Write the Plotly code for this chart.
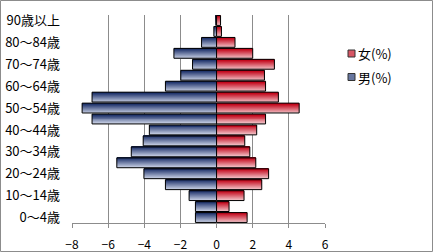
import plotly.graph_objects as go

ages = ["0〜4歳", "5〜9歳", "10〜14歳", "15〜19歳", "20〜24歳", "25〜29歳", "30〜34歳",
        "35〜39歳", "40〜44歳", "45〜49歳", "50〜54歳", "55〜59歳", "60〜64歳", "65〜69歳",
        "70〜74歳", "75〜79歳", "80〜84歳", "85〜89歳", "90歳以上"]
male = [-1.17, -1.17, -1.52, -2.83, -4.02, -5.52, -4.72, -4.06, -3.72, -6.89,
        -7.44, -6.89, -2.83, -1.98, -1.33, -2.36, -0.83, -0.15, -0.04]
female = [1.69, 0.69, 1.52, 2.5, 2.88, 2.17, 1.84, 1.56, 2.22, 2.71,
          4.57, 3.42, 2.71, 2.65, 3.2, 2.0, 1.02, 0.27, 0.22]
shown_labels = ["0〜4歳", "10〜14歳", "20〜24歳", "30〜34歳", "40〜44歳", "50〜54歳",
                "60〜64歳", "70〜74歳", "80〜84歳", "90歳以上"]
x_ticks = [-8, -6, -4, -2, 0, 2, 4, 6]
legend_names = ["女(%)", "男(%)"]


def lerp(c1, c2, t):
    return "rgb(%d,%d,%d)" % tuple(round(a + (b - a) * t) for a, b in zip(c1, c2))


L, R, T, B = 72, 108, 15, 29
pw = 433 - L - R
ph = 252 - T - B

fig = go.Figure()
N = 10
W = 0.9
sw = W / N
series = [
    (legend_names[1], male, (35, 55, 110), (205, 212, 232)),
    (legend_names[0], female, (195, 10, 30), (244, 200, 205)),
]
for name, vals, top, bot in series:
    for i in range(N):
        t = i / (N - 1)
        col = lerp(bot, top, t)
        fig.add_trace(go.Bar(
            x=vals, y=ages, orientation="h",
            width=sw * 1.02, offset=-W / 2 + i * sw,
            marker=dict(color=col, line=dict(width=0)),
            name=name, showlegend=False, hoverinfo="skip",
        ))
    fig.add_trace(go.Bar(
        x=vals, y=ages, orientation="h", width=W, offset=-W / 2,
        marker=dict(color="rgba(0,0,0,0)", line=dict(color="black", width=1)),
        name=name, showlegend=False, hoverinfo="skip",
    ))

shapes = [dict(type="rect", xref="paper", yref="paper",
               x0=-(L - 0.5) / pw, x1=1 + (R - 0.5) / pw,
               y0=-(B - 0.5) / ph, y1=1 + (T - 0.5) / ph,
               line=dict(color="#8c8c8c", width=1), layer="above")]
annotations = []
leg_items = [(legend_names[0], 53.5, (195, 10, 30), (244, 200, 205)),
             (legend_names[1], 77.0, (35, 55, 110), (205, 212, 232))]


def px_x(p):
    return (p - L) / pw


def px_y(p):
    return (252 - B - p) / ph


for name, cy, top, bot in leg_items:
    shapes.append(dict(type="rect", xref="paper", yref="paper",
                       x0=px_x(348), x1=px_x(355), y0=px_y(cy + 3.5), y1=px_y(cy - 3.5),
                       fillcolor=lerp(bot, top, 0.6), line=dict(color="#333", width=1)))
    annotations.append(dict(text=name, xref="paper", yref="paper", x=px_x(356), y=px_y(cy),
                            xanchor="left", yanchor="middle", showarrow=False,
                            font=dict(size=13, family="Noto Sans CJK JP", color="black")))

fig.update_layout(
    width=433, height=252,
    margin=dict(l=L, r=R, t=T, b=B, pad=0, autoexpand=False),
    barmode="overlay",
    plot_bgcolor="white", paper_bgcolor="white",
    font=dict(family="Noto Sans CJK JP", size=12, color="black"),
    showlegend=False,
    xaxis=dict(range=[-8, 6], tickvals=x_ticks, showgrid=True, gridcolor="#8c8c8c",
               gridwidth=1, zeroline=True, zerolinecolor="#6e6e6e", zerolinewidth=1,
               showline=True, linecolor="#8c8c8c", ticks="outside", ticklen=4,
               tickcolor="#8c8c8c", tickfont=dict(size=12), ticklabelstandoff=7,
               automargin=False),
    yaxis=dict(categoryorder="array", categoryarray=ages, range=[-0.5, 18.5],
               tickvals=shown_labels, ticktext=shown_labels, showgrid=False,
               ticks="", tickfont=dict(size=13), ticklabelstandoff=11, automargin=False),
    shapes=shapes,
    annotations=annotations,
)

fig.write_html("out.html")
